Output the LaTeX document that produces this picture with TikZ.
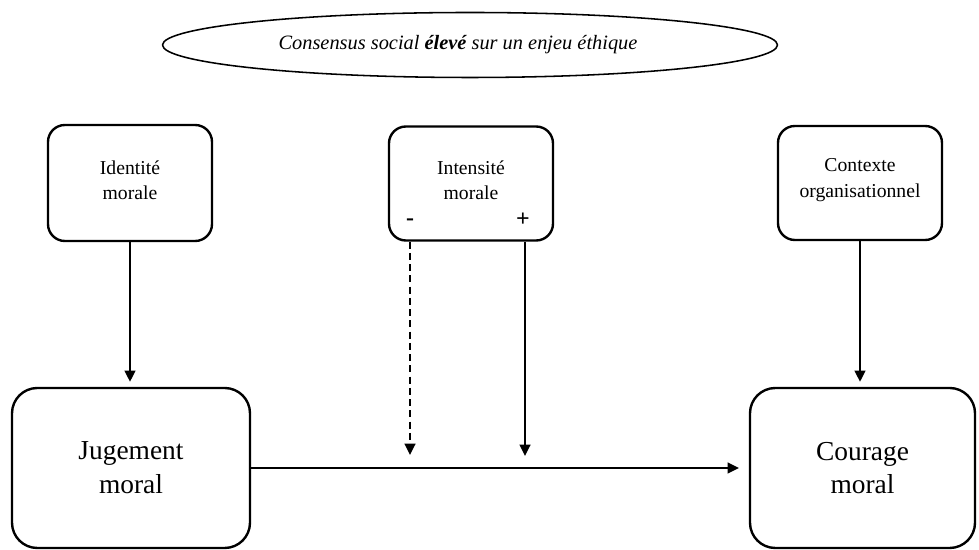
\documentclass[tikz,border=0pt]{standalone}
\usepackage{fontspec}
\setmainfont{Liberation Serif}
\usetikzlibrary{arrows.meta,shapes.geometric}
\begin{document}
\begin{tikzpicture}[line join=round,>={Triangle[length=8pt,width=7.5pt]},line width=1.7pt,
	boite/.style={draw,rounded corners=12pt,inner sep=0pt},
	petit/.style={font=\fontsize{14}{18}\selectfont,align=center},
	grand/.style={font=\fontsize{19.5}{24}\selectfont,align=center}]
	\useasboundingbox (0,0) rectangle (24.475,13.75);
	%%% ellipse du haut
	\node[draw,ellipse,line width=1.1pt,minimum width=15.375cm,minimum height=1.625cm,inner sep=0pt] (consensus) at (11.75,12.625) {};
	\node[font=\fontsize{14.5}{17}\selectfont\itshape] (tconsensus) at (11.45,12.625)
		{Consensus social \textbf{élevé} sur un enjeu éthique};
	%%% boites du haut
	\node[boite,minimum width=4.1cm,minimum height=2.9cm] (identite) at (3.25,9.175) {};
	\node[petit] (tidentite) at (3.25,9.25) {Identité\\morale};
	\node[boite,minimum width=4.1cm,minimum height=2.85cm] (intensite) at (11.775,9.1625) {};
	\node[petit] (tintensite) at (11.775,9.25) {Intensité\\morale};
	\node[font=\fontsize{17}{18}\selectfont\bfseries] (moins) at (10.25,8.2) {-};
	\node[font=\fontsize{17}{18}\selectfont\bfseries] (plus) at (13.075,8.25) {+};
	\node[boite,minimum width=4.1cm,minimum height=2.85cm] (contexte) at (21.5,9.175) {};
	\node[petit] (tcontexte) at (21.5,9.25) {Contexte\\organisationnel};
	%%% boites du bas
	\node[boite,minimum width=5.95cm,minimum height=4cm,rounded corners=18pt,grand] (jugement) at (3.275,2.05) {Jugement\\moral};
	\node[boite,minimum width=5.625cm,minimum height=4cm,rounded corners=18pt,grand] (courage) at (21.5625,2.05) {Courage\\moral};
	%%% fleches
	\coordinate (finmoins) at (10.25,2.375);
	\coordinate (finplus) at (13.125,2.35);
	\draw[->,shorten >=3.5pt] (identite.south) -- (identite.south |- jugement.north);
	\draw[->,shorten >=3.5pt] (contexte.south) -- (contexte.south |- courage.north);
	\draw[->,shorten >=7pt] (jugement.east) -- (courage.west);
	\draw[->,dashed,dash pattern=on 5pt off 3pt] (intensite.south -| finmoins) -- (finmoins);
	\draw[->] (intensite.south -| finplus) -- (finplus);
\end{tikzpicture}
\end{document}
